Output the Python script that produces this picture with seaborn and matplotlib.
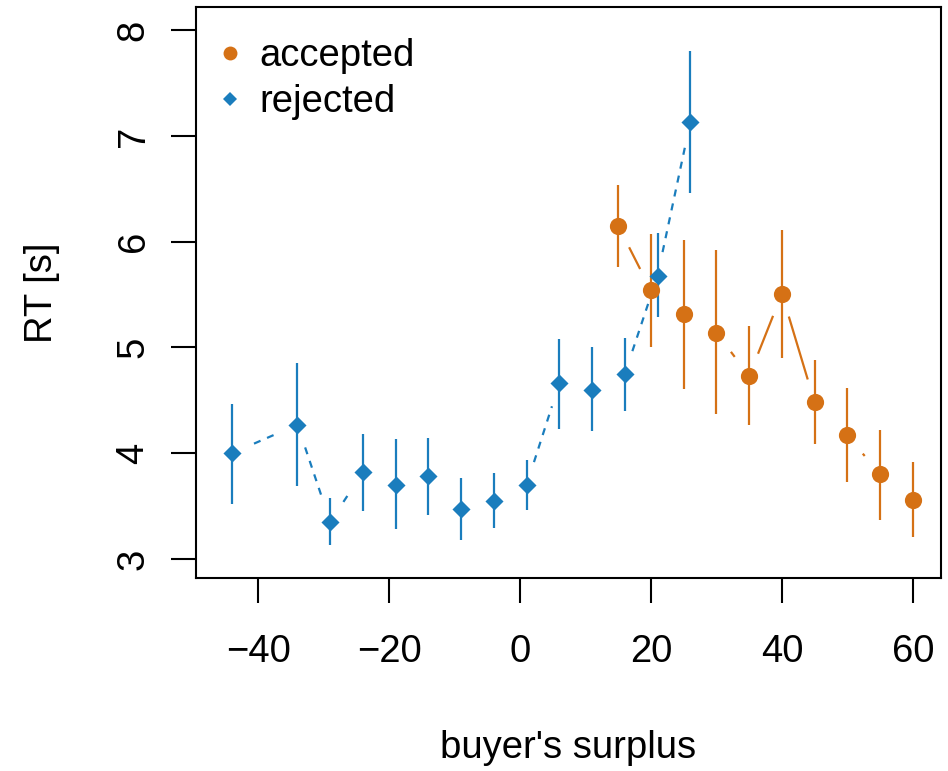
import numpy as np
import pandas as pd
import matplotlib
matplotlib.use("Agg")
import matplotlib.pyplot as plt
from matplotlib.lines import Line2D
import seaborn as sns

# ---- data ----
rej_x = [-44, -34, -29, -24, -19, -14, -9, -4, 1, 6, 11, 16, 21, 26]
rej_y = [4.00, 4.27, 3.35, 3.82, 3.70, 3.78, 3.47, 3.55, 3.70, 4.66, 4.60, 4.75, 5.68, 7.13]
rej_hi = [4.47, 4.85, 3.58, 4.18, 4.13, 4.14, 3.77, 3.81, 3.94, 5.08, 5.00, 5.09, 6.08, 7.80]
rej_lo = [3.52, 3.69, 3.13, 3.45, 3.28, 3.42, 3.18, 3.29, 3.46, 4.23, 4.21, 4.40, 5.29, 6.46]

acc_x = [15, 20, 25, 30, 35, 40, 45, 50, 55, 60]
acc_y = [6.15, 5.54, 5.32, 5.14, 4.73, 5.51, 4.48, 4.17, 3.80, 3.56]
acc_hi = [6.54, 6.07, 6.02, 5.92, 5.20, 6.11, 4.88, 4.62, 4.22, 3.92]
acc_lo = [5.76, 5.00, 4.61, 4.37, 4.27, 4.90, 4.09, 3.73, 3.37, 3.21]

x_ticks = [-40, -20, 0, 20, 40, 60]
y_ticks = [3, 4, 5, 6, 7, 8]
labels = ["accepted", "rejected"]

ORANGE = "#D57115"
BLUE = "#1A7DBD"

sns.set_style("ticks")
plt.rcParams["font.family"] = ["Liberation Sans", "DejaVu Sans"]
for k in ["text.color", "axes.labelcolor", "xtick.color", "ytick.color",
          "axes.edgecolor", "xtick.labelcolor", "ytick.labelcolor"]:
    plt.rcParams[k] = "black"
FS = 27.5

fig = plt.figure(figsize=(9.48, 7.71), dpi=100)
ax = fig.add_axes([196 / 948, 1 - 578 / 771, (941 - 196) / 948, (578 - 7) / 771])
ax.set_xlim(-49.5, 64.3)
ax.set_ylim(2.82, 8.22)

df_acc = pd.DataFrame({"x": acc_x, "y": acc_y, "lo": acc_lo, "hi": acc_hi})
df_rej = pd.DataFrame({"x": rej_x, "y": rej_y, "lo": rej_lo, "hi": rej_hi})

GAP = 24.0  # pixels


def gapped_lines(df, color, ls):
    pts = ax.transData.transform(np.column_stack([df["x"], df["y"]]))
    inv = ax.transData.inverted()
    for p0, p1 in zip(pts[:-1], pts[1:]):
        d = p1 - p0
        L = np.hypot(*d)
        if L <= 2 * GAP:
            continue
        u = d / L
        a = inv.transform(p0 + u * GAP)
        b = inv.transform(p1 - u * GAP)
        if ls == "dashed":
            ax.plot([a[0], b[0]], [a[1], b[1]], color=color, lw=1.6,
                    dashes=(3.2, 3.2), solid_capstyle="butt", dash_capstyle="butt")
        else:
            ax.plot([a[0], b[0]], [a[1], b[1]], color=color, lw=1.6,
                    solid_capstyle="butt")


for df, col, ls in [(df_rej, BLUE, "dashed"), (df_acc, ORANGE, "solid")]:
    ax.vlines(df["x"], df["lo"], df["hi"], color=col, lw=1.6)
    gapped_lines(df, col, ls)

sns.scatterplot(data=df_rej, x="x", y="y", ax=ax, marker="D", s=9.2 ** 2,
                color=BLUE, linewidth=0, zorder=3, legend=False)
sns.scatterplot(data=df_acc, x="x", y="y", ax=ax, marker="o", s=12.4 ** 2,
                color=ORANGE, linewidth=0, zorder=3, legend=False)

ax.set_xticks(x_ticks)
ax.set_xticklabels([f"{t}".replace("-", "\u2212") for t in x_ticks])
ax.set_yticks(y_ticks)
ax.set_yticklabels([str(t) for t in y_ticks], rotation=90, va="center")
ax.tick_params(axis="both", labelsize=FS, length=18, width=1.5, color="black",
               labelcolor="black", direction="out")
ax.tick_params(axis="x", pad=22)
ax.tick_params(axis="y", pad=14)
for sp in ax.spines.values():
    sp.set_linewidth(1.5)
    sp.set_color("black")
    sp.set_visible(True)

ax.set_xlabel("buyer's surplus", fontsize=FS, color="black")
ax.set_ylabel("RT [s]", fontsize=FS, color="black")
ax.xaxis.set_label_coords(0.5, (578 - 748) / 571)
ax.xaxis.label.set_va("center")
ax.yaxis.set_label_coords((42 - 196) / 745, 0.5)
ax.yaxis.label.set_va("center")

handles = [
    Line2D([], [], marker="o", color=ORANGE, ls="none", markersize=10, markeredgewidth=0),
    Line2D([], [], marker="D", color=BLUE, ls="none", markersize=7, markeredgewidth=0),
]
leg = ax.legend(handles, labels, loc="upper left", bbox_to_anchor=(-0.0175, 1.0),
                frameon=False, fontsize=FS,
                handlelength=0.8, handletextpad=0.37, labelspacing=0.26,
                borderaxespad=0.62, borderpad=0.2)
for t in leg.get_texts():
    t.set_color("black")

fig.savefig("out.png", dpi=100)
